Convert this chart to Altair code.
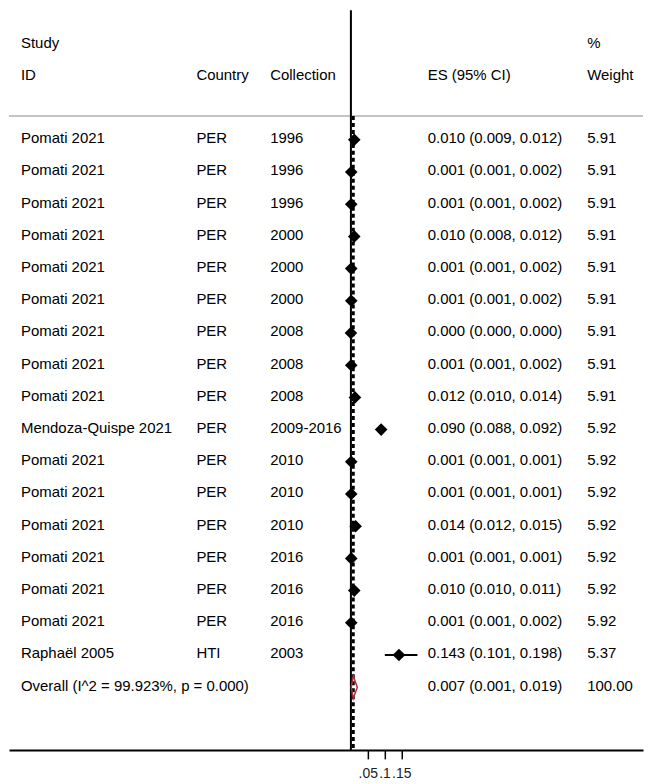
import altair as alt
import pandas as pd

studies = ["Pomati 2021"] * 9 + ["Mendoza-Quispe 2021"] + ["Pomati 2021"] * 6 + ["Raphaël 2005"]
countries = ["PER"] * 16 + ["HTI"]
collections = ["1996", "1996", "1996", "2000", "2000", "2000", "2008", "2008", "2008",
               "2009-2016", "2010", "2010", "2010", "2016", "2016", "2016", "2003"]
es = [0.010, 0.001, 0.001, 0.010, 0.001, 0.001, 0.000, 0.001, 0.012,
      0.090, 0.001, 0.001, 0.014, 0.001, 0.010, 0.001, 0.143]
lo = [0.009, 0.001, 0.001, 0.008, 0.001, 0.001, 0.000, 0.001, 0.010,
      0.088, 0.001, 0.001, 0.012, 0.001, 0.010, 0.001, 0.101]
hi = [0.012, 0.002, 0.002, 0.012, 0.002, 0.002, 0.000, 0.002, 0.014,
      0.092, 0.001, 0.001, 0.015, 0.001, 0.011, 0.002, 0.198]
weights = ["5.91"] * 9 + ["5.92"] * 7 + ["5.37"]

overall_label = "Overall  (I^2 = 99.923%, p = 0.000)"
overall_es, overall_lo, overall_hi = 0.007, 0.001, 0.019
overall_weight = "100.00"

tick_values = [0.05, 0.1, 0.15]

FONT = "Liberation Sans"
FS = 15
W, H = 636, 742
XDOM = [-1.0178, 0.8695]
YDOM = [-4.025, 18.947]

n = len(studies)
rows = pd.DataFrame({
    "row": list(range(n)),
    "study": studies, "country": countries, "collection": collections,
    "es": es, "lo": lo, "hi": hi, "weight": weights,
})
rows["ci"] = [f"{e:.3f} ({l:.3f}, {h:.3f})" for e, l, h in zip(es, lo, hi)]
orow = n
overall = pd.DataFrame([{
    "row": orow, "study": overall_label, "country": "", "collection": "",
    "ci": f"{overall_es:.3f} ({overall_lo:.3f}, {overall_hi:.3f})", "weight": overall_weight,
}])
textrows = pd.concat([rows[["row", "study", "country", "collection", "ci", "weight"]], overall])

dh = 0.35
diamond = pd.DataFrame({
    "x": [overall_lo, overall_es, overall_hi, overall_es, overall_lo],
    "y": [orow, orow - dh, orow, orow + dh, orow],
    "o": [0, 1, 2, 3, 4],
})

headers = pd.DataFrame([
    {"row": -2.97, "col": "study", "text": "Study"},
    {"row": -2.97, "col": "weight", "text": "%"},
    {"row": -1.98, "col": "study", "text": "ID"},
    {"row": -1.98, "col": "country", "text": "Country"},
    {"row": -1.98, "col": "collection", "text": "Collection"},
    {"row": -1.98, "col": "ci", "text": "ES (95% CI)"},
    {"row": -1.98, "col": "weight", "text": "Weight"},
])
col_x = {"study": 12, "country": 188, "collection": 262, "ci": 420, "weight": 580}

xs = alt.Scale(domain=XDOM, nice=False, zero=False)
ys = alt.Scale(domain=YDOM, nice=False, zero=False, reverse=True)

base = alt.Chart(rows)

xaxis = alt.Axis(values=tick_values, format=".2~f", labelExpr="slice(datum.label, 1)",
                 labelOverlap=False, grid=False, domainColor="black", domainWidth=2,
                 tickColor="black", tickWidth=1.5, tickSize=9, labelFont=FONT,
                 labelFontSize=14, labelColor="#222", labelPadding=8, title=None,
                 labelFlush=False)

grey = alt.Chart(pd.DataFrame({"y": [-0.74]})).mark_rule(color="#c4c4c4", strokeWidth=2).encode(
    y=alt.Y("y:Q", scale=ys, axis=None))

zero_line = alt.Chart(pd.DataFrame({"x": [0.0]})).mark_rule(color="black", strokeWidth=2).encode(
    x=alt.X("x:Q", scale=xs, axis=xaxis))

dash_line = alt.Chart(pd.DataFrame({"x": [overall_es], "y": [-0.74], "y2": [YDOM[1]]})).mark_rule(
    color="black", strokeWidth=3, strokeDash=[4, 3]).encode(
    x=alt.X("x:Q", scale=xs), y=alt.Y("y:Q", scale=ys), y2="y2:Q")

ci = base.mark_rule(color="black", strokeWidth=2).encode(
    x=alt.X("lo:Q", scale=xs), x2="hi:Q", y=alt.Y("row:Q", scale=ys))

pts = base.mark_point(shape="diamond", filled=True, color="black", size=160, opacity=1).encode(
    x=alt.X("es:Q", scale=xs), y=alt.Y("row:Q", scale=ys))

dia = alt.Chart(diamond).mark_line(color="#a8323e", strokeWidth=1.5).encode(
    x=alt.X("x:Q", scale=xs), y=alt.Y("y:Q", scale=ys), order="o:Q")

def col_text(field):
    return alt.Chart(textrows).mark_text(align="left", baseline="middle", font=FONT,
                                         fontSize=FS, color="black", dy=-1.5).encode(
        x=alt.value(col_x[field]), y=alt.Y("row:Q", scale=ys), text=f"{field}:N")

hdr_layers = []
for c, xv in col_x.items():
    hdr_layers.append(alt.Chart(headers[headers["col"] == c]).mark_text(
        align="left", baseline="middle", font=FONT, fontSize=FS, color="black", dy=-1.5).encode(
        x=alt.value(xv), y=alt.Y("row:Q", scale=ys), text="text:N"))

chart = alt.layer(
    grey, zero_line, dash_line, ci, pts, dia,
    col_text("study"), col_text("country"), col_text("collection"), col_text("ci"), col_text("weight"),
    *hdr_layers,
).properties(width=W, height=H, padding={"left": 0, "top": 0, "right": 0, "bottom": 0}).configure_view(
    stroke=None)

chart.save("out.html", embed_options={"renderer": "svg", "actions": False})
